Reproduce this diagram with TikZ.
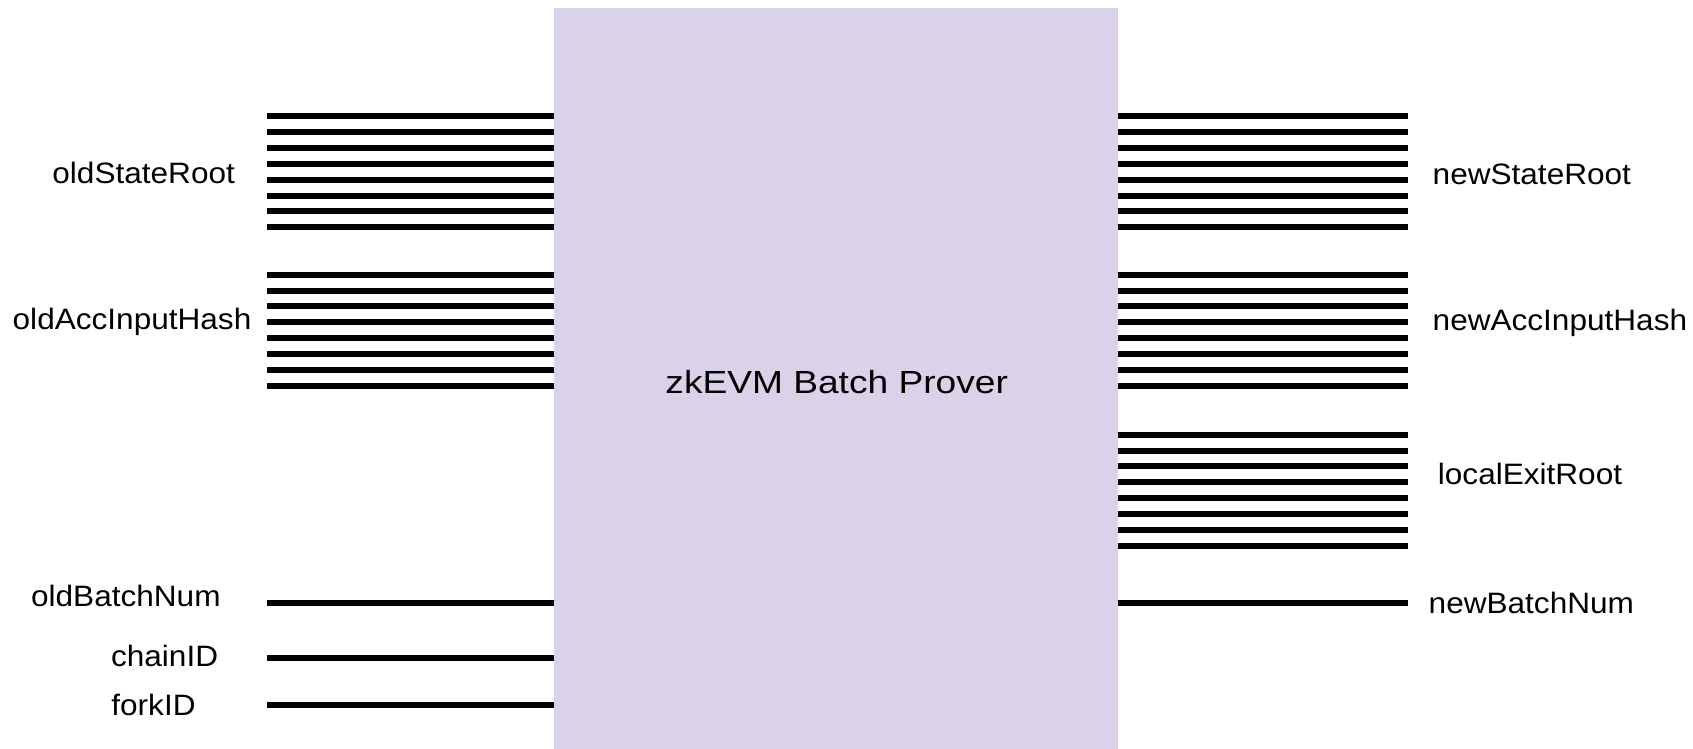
\documentclass[tikz,border=0pt]{standalone}
\usepackage{fontspec}
\setmainfont{Liberation Sans}
\newfontfamily\lblfont[FakeStretch=1.07]{Liberation Sans}
\newfontfamily\ttlfont[FakeStretch=1.16]{Liberation Sans}
\definecolor{boxfill}{RGB}{217,210,233}
\begin{document}
\begin{tikzpicture}[x=0.5pt,y=-0.5pt,
  bus/.style={line width=3pt, black},
  lbl/.style={anchor=base west, inner sep=0pt, font={\lblfont\fontsize{14.75pt}{17pt}\selectfont}},
  ttl/.style={anchor=base, inner sep=0pt, font={\ttlfont\fontsize{16pt}{19pt}\selectfont}},
  proverbox/.style={fill=boxfill, draw=none, inner sep=0pt, minimum width=281.75pt, minimum height=370.5pt}]
\useasboundingbox (0,0) rectangle (1693,749);
\node[proverbox] (prover) at (835.75,378.5) {};
\node[ttl] (title) at (836.7,393.3) {zkEVM Batch Prover};

% buses
\foreach \k in {0,...,7} {
  \coordinate (osr\k) at (267,{116.3+15.86*\k});
  \draw[bus] (osr\k) -- (osr\k -| prover.west);
  \coordinate (oah\k) at (267,{274.7+15.86*\k});
  \draw[bus] (oah\k) -- (oah\k -| prover.west);
  \coordinate (nsr\k) at (1408,{116.3+15.86*\k});
  \draw[bus] (nsr\k -| prover.east) -- (nsr\k);
  \coordinate (nah\k) at (1408,{274.7+15.86*\k});
  \draw[bus] (nah\k -| prover.east) -- (nah\k);
  \coordinate (ler\k) at (1408,{434.7+15.86*\k});
  \draw[bus] (ler\k -| prover.east) -- (ler\k);
}
\coordinate (obn) at (267,602.7);
\coordinate (cid) at (267,657.5);
\coordinate (fid) at (267,705.2);
\coordinate (nbn) at (1408,602.7);
\draw[bus] (obn) -- (obn -| prover.west);
\draw[bus] (cid) -- (cid -| prover.west);
\draw[bus] (fid) -- (fid -| prover.west);
\draw[bus] (nbn -| prover.east) -- (nbn);

% labels
\node[lbl] (loldsr) at (52,183.3) {oldStateRoot};
\node[lbl] (loldah) at (12.3,329.3) {oldAccInputHash};
\node[lbl] (loldbn) at (30.7,606) {oldBatchNum};
\node[lbl] (lchain) at (110.7,666.7) {chainID};
\node[lbl] (lfork) at (111,715) {forkID};
\node[lbl] (lnewsr) at (1432.3,184.3) {newStateRoot};
\node[lbl] (lnewah) at (1432.3,330.7) {newAccInputHash};
\node[lbl] (llocal) at (1437.5,484) {localExitRoot};
\node[lbl] (lnewbn) at (1428.3,613.5) {newBatchNum};
\end{tikzpicture}
\end{document}
